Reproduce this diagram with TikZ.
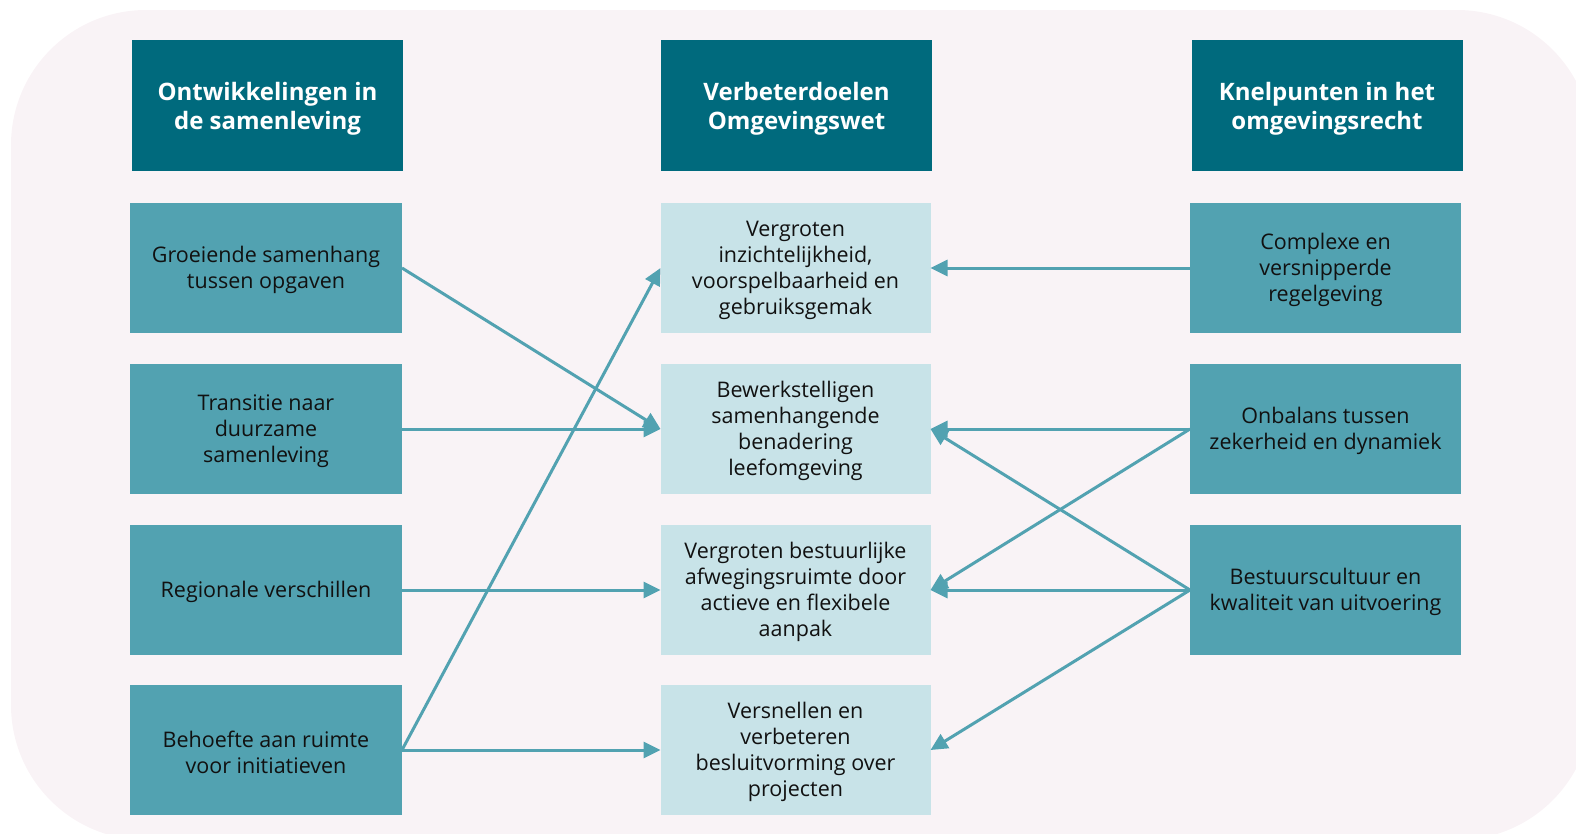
\documentclass[tikz,border=0pt]{standalone}
\usepackage{fontspec}
\setmainfont{Open Sans}
\usetikzlibrary{arrows.meta}
\definecolor{bgpink}{HTML}{F9F3F6}
\definecolor{darkteal}{HTML}{006A7D}
\definecolor{midteal}{HTML}{52A2B1}
\definecolor{lightteal}{HTML}{C8E3E8}
\definecolor{txt}{HTML}{111111}
\tikzset{
  every node/.style={inner sep=0pt, outer sep=0pt},
  headtext/.style={align=center, text=white, yshift=-3pt, font=\fontsize{24}{29}\selectfont\bfseries},
  bodytext/.style={align=center, text=txt, yshift=-2pt, font=\fontsize{21.5}{26}\selectfont},
  headbox/.style={fill=darkteal, minimum width=271pt, minimum height=131pt,
    label={[headtext]center:#1}},
  sidebox/.style={fill=midteal, minimum width=272pt, minimum height=130pt,
    label={[bodytext]center:#1}},
  goalbox/.style={fill=lightteal, minimum width=270pt, minimum height=130pt,
    label={[bodytext]center:#1}},
  conn/.style={draw=midteal, line width=3pt, -{Triangle[length=17pt,width=16pt]}}
}
\begin{document}
\begin{tikzpicture}[x=1pt,y=-1pt]
\useasboundingbox (0,0) rectangle (1576,833);
\begin{scope}
\clip (0,0) rectangle (1576,833);
\fill[bgpink, rounded corners=135pt] (11,10) rectangle (1592,840);
\end{scope}
% headers
\node[headbox={Ontwikkelingen in\\de samenleving}] (h1) at (267.5,105.5) {};
\node[headbox={Verbeterdoelen\\Omgevingswet}] (h2) at (796.5,105.5) {};
\node[headbox={Knelpunten in het\\omgevingsrecht}] (h3) at (1327,105.5) {};
% left column
\node[sidebox={Groeiende samenhang\\tussen opgaven}] (l1) at (266,268) {};
\node[sidebox={Transitie naar\\duurzame\\samenleving}] (l2) at (266,429) {};
\node[sidebox={Regionale verschillen}] (l3) at (266,590) {};
\node[sidebox={Behoefte aan ruimte\\voor initiatieven}] (l4) at (266,750) {};
% middle column
\node[goalbox={Vergroten\\inzichtelijkheid,\\voorspelbaarheid en\\gebruiksgemak}] (m1) at (795.5,268) {};
\node[goalbox={Bewerkstelligen\\samenhangende\\benadering\\leefomgeving}] (m2) at (795.5,429) {};
\node[goalbox={Vergroten bestuurlijke\\afwegingsruimte door\\actieve en flexibele\\aanpak}] (m3) at (795.5,590) {};
\node[goalbox={Versnellen en\\verbeteren\\besluitvorming over\\projecten}] (m4) at (795.5,750) {};
% right column
\node[sidebox={Complexe en\\versnipperde\\regelgeving}, minimum width=271pt] (r1) at (1325.5,268) {};
\node[sidebox={Onbalans tussen\\zekerheid en dynamiek}, minimum width=271pt] (r2) at (1325.5,429) {};
\node[sidebox={Bestuurscultuur en\\kwaliteit van uitvoering}, minimum width=271pt] (r3) at (1325.5,590) {};
% connectors left
\draw[conn] (l1.east) -- (m2.west);
\draw[conn] (l2.east) -- (m2.west);
\draw[conn] (l3.east) -- (m3.west);
\draw[conn] (l4.east) -- (m1.west);
\draw[conn] (l4.east) -- (m4.west);
% connectors right
\draw[conn] (r1.west) -- (m1.east);
\draw[conn] (r2.west) -- (m2.east);
\draw[conn] (r2.west) -- (m3.east);
\draw[conn] (r3.west) -- (m2.east);
\draw[conn] (r3.west) -- (m3.east);
\draw[conn] (r3.west) -- (m4.east);
\end{tikzpicture}
\end{document}
